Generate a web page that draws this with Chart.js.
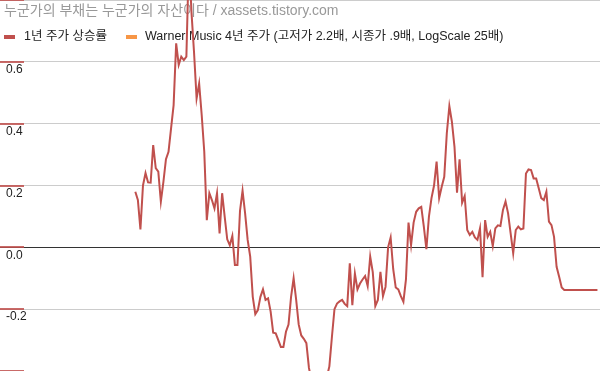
<!DOCTYPE html>
<html>
<head>
<meta charset="utf-8">
<script src="https://cdn.jsdelivr.net/npm/chart.js@4.4.0/dist/chart.umd.min.js"></script>
<style>
  html, body { margin: 0; padding: 0; background: #fff; }
  #wrap { width: 600px; height: 371px; position: relative; }
</style>
</head>
<body>
<div id="wrap"><canvas id="chartRise"></canvas></div>
<script>
// data (weekly points, the first weeks have no value)
var titleText = '누군가의 부채는 누군가의 자산이다 / xassets.tistory.com';
var seriesNames = ['1년 주가 상승률', 'Warner Music 4년 주가 (고저가 2.2배, 시종가 .9배, LogScale 25배)'];
var seriesColors = ['#c0504d', '#f79646'];
var yTicks = [-0.4, -0.2, 0.0, 0.2, 0.4, 0.6, 0.8];
var weekCount = 236;
var firstWeek = 53;
var rise1y = [
    0.18, 0.153, 0.058, 0.20, 0.24, 0.21, 0.209, 0.331, 0.256, 0.245,
    0.148, 0.212, 0.285, 0.309, 0.385, 0.46, 0.66, 0.59, 0.617, 0.606,
    0.617, 0.94, 0.76, 0.63, 0.482, 0.53, 0.428, 0.31, 0.088, 0.175,
    0.153, 0.126, 0.175, 0.045, 0.175, 0.099, 0.026, 0.007, 0.037, -0.057,
    -0.057, 0.118, 0.183, 0.11, 0.024, -0.03, -0.16, -0.216, -0.203, -0.16,
    -0.136, -0.17, -0.165, -0.208, -0.276, -0.278, -0.30, -0.322, -0.322, -0.273,
    -0.25, -0.16, -0.1, -0.17, -0.25, -0.285, -0.296, -0.31, -0.39, -0.43,
    -0.45, -0.46, -0.45, -0.44, -0.43, -0.42, -0.385, -0.29, -0.2, -0.182,
    -0.175, -0.17, -0.183, -0.19, -0.052, -0.187, -0.085, -0.136, -0.117, -0.104,
    -0.093, -0.125, -0.03, -0.08, -0.19, -0.17, -0.079, -0.158, -0.128, 0.0,
    0.032, -0.07, -0.13, -0.136, -0.158, -0.176, -0.104, 0.08, 0.007, 0.08,
    0.115, 0.126, 0.131, 0.067, -0.006, 0.099, 0.159, 0.2, 0.277, 0.159,
    0.196, 0.228, 0.369, 0.457, 0.406, 0.326, 0.177, 0.285, 0.144, 0.166,
    0.056, 0.04, 0.05, 0.032, 0.024, 0.061, -0.097, 0.088, 0.034, 0.05,
    0.004, 0.061, 0.071, 0.069, 0.121, 0.148, 0.11, 0.045, -0.019, 0.056,
    0.067, 0.058, 0.061, 0.239, 0.252, 0.25, 0.223, 0.223, 0.191, 0.159,
    0.153, 0.18, 0.083, 0.072, 0.034, -0.063, -0.095, -0.13, -0.138, -0.138,
    -0.138, -0.138, -0.138, -0.138, -0.138, -0.138, -0.138, -0.138, -0.138, -0.138,
    -0.138, -0.138
];
var warner4y = []; // not visible in this view

var weeks = [];
for (var i = 0; i < weekCount; i++) weeks.push(i);
var riseData = weeks.map(function (w) {
    var k = w - firstWeek;
    return (k >= 0 && k < rise1y.length) ? rise1y[k] : null;
});

var FONT = '"Liberation Sans", "Noto Sans CJK KR", sans-serif';

// title + legend sit inside the plot, red tick marks on the left edge
var overlay = {
    id: 'overlay',
    beforeDatasetsDraw: function (chart) {
        var ctx = chart.ctx;
        var y = chart.scales.y;
        ctx.save();
        ctx.fillStyle = 'rgba(192,80,77,0.85)';
        y.ticks.forEach(function (t) {
            var py = Math.round(y.getPixelForValue(t.value));
            ctx.fillRect(0, py - 1, 24, 2);
        });
        ctx.textBaseline = 'middle';
        ctx.font = '14px ' + FONT;
        ctx.fillStyle = '#999';
        ctx.fillText(titleText, 4, 11);
        ctx.font = '12.5px ' + FONT;
        ctx.fillStyle = seriesColors[0];
        ctx.fillRect(4, 35, 11, 4);
        ctx.fillStyle = '#222';
        ctx.fillText(seriesNames[0], 24, 37);
        ctx.fillStyle = seriesColors[1];
        ctx.fillRect(126, 35, 11, 4);
        ctx.fillStyle = '#222';
        ctx.fillText(seriesNames[1], 145, 37);
        ctx.restore();
    }
};

var ctxRise = document.getElementById('chartRise').getContext('2d');
var chart = new Chart(ctxRise, {
    type: 'line',
    data: {
        labels: weeks,
        datasets: [
            {
                label: seriesNames[0],
                data: riseData,
                borderColor: seriesColors[0],
                backgroundColor: seriesColors[0],
                borderWidth: 2,
                pointRadius: 0,
                tension: 0
            },
            {
                label: seriesNames[1],
                data: warner4y,
                borderColor: seriesColors[1],
                backgroundColor: seriesColors[1],
                borderWidth: 2,
                pointRadius: 0
            }
        ]
    },
    options: {
        responsive: true,
        maintainAspectRatio: false,
        animation: false,
        layout: { padding: 0 },
        plugins: {
            legend: { display: false },
            title: { display: false },
            tooltip: { enabled: false }
        },
        scales: {
            x: { display: false },
            y: {
                min: -0.4,
                max: 0.8,
                afterBuildTicks: function (scale) {
                    scale.ticks = yTicks.map(function (v) { return { value: v }; });
                },
                afterFit: function (scale) { scale.width = 0; scale.paddingTop = 0; scale.paddingBottom = 0; },
                border: { display: false },
                grid: {
                    drawTicks: false,
                    color: function (c) { return c.tick && c.tick.value === 0 ? '#333' : '#ccc'; }
                },
                ticks: {
                    mirror: true,
                    padding: 6,
                    labelOffset: 8,
                    color: '#222',
                    font: { family: FONT, size: 12 },
                    // 0.8 sits under the title at the top edge and is not shown
                    callback: function (v) { return v >= 0.79 ? '' : v.toFixed(1); }
                }
            }
        }
    },
    plugins: [overlay]
});
</script>
</body>
</html>
